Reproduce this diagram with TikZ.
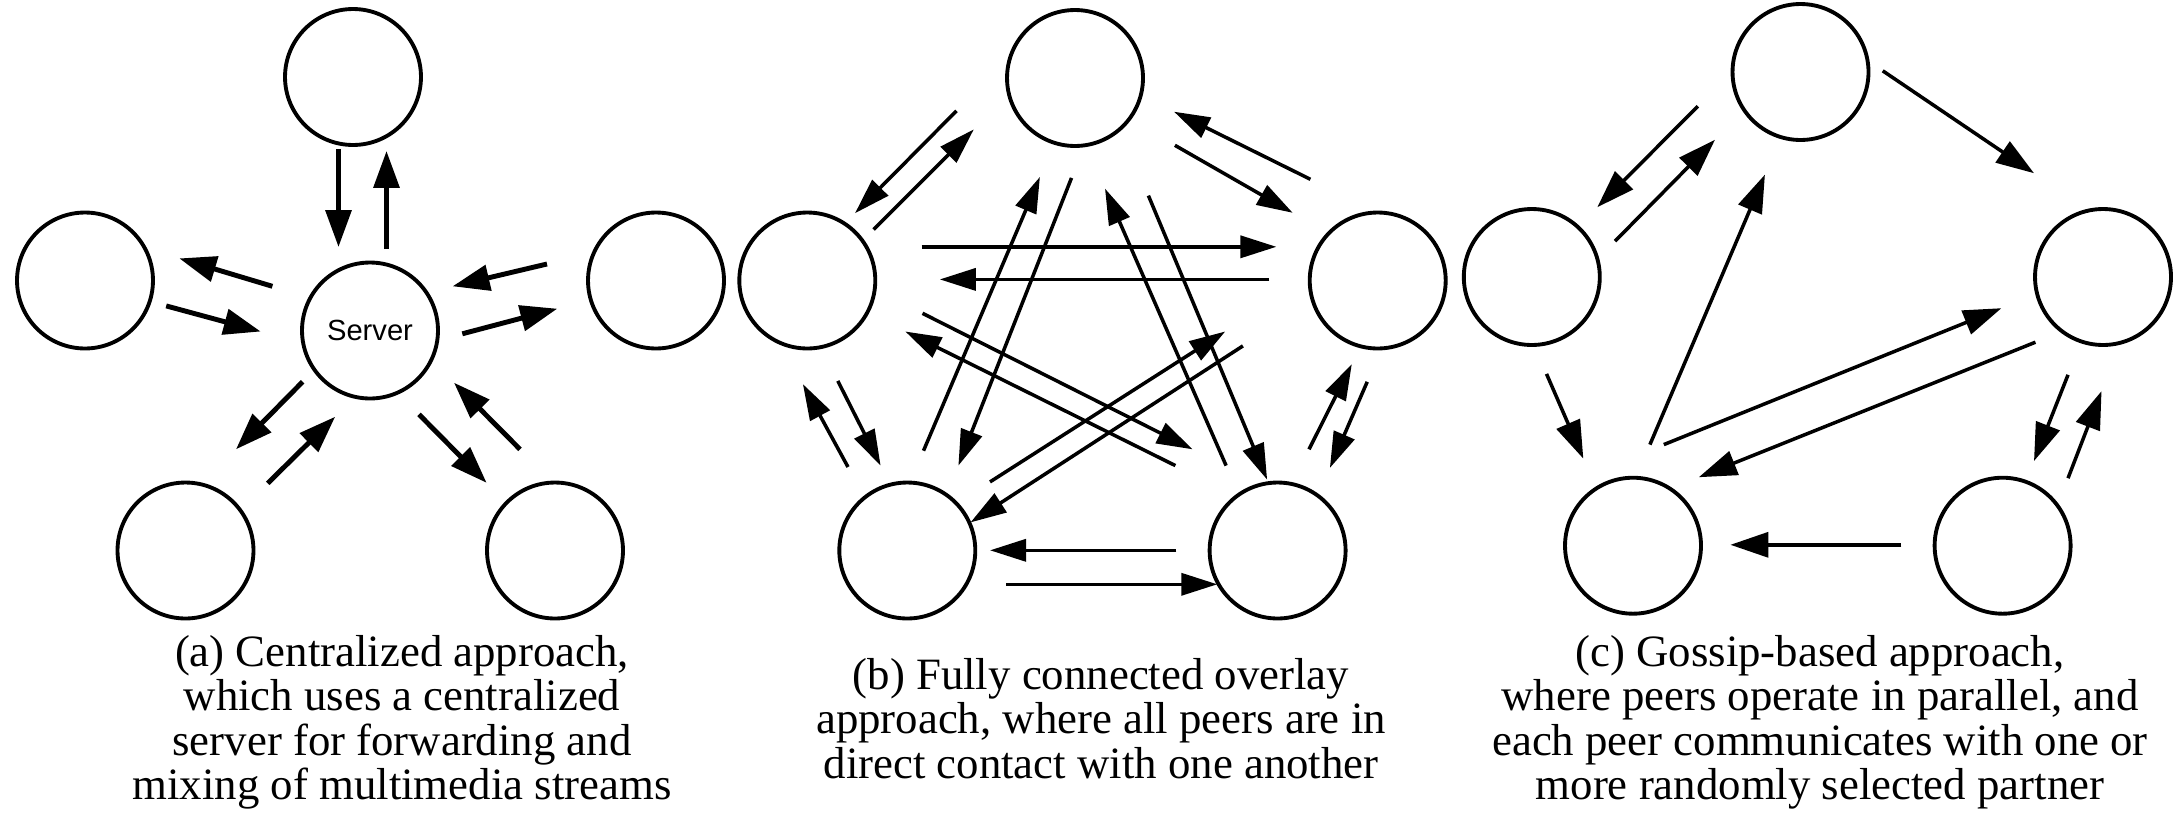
\documentclass[tikz,border=0pt]{standalone}
\usepackage{fontspec}
\setmainfont{Liberation Serif}
\newfontfamily\labelsans{Liberation Sans}
\usetikzlibrary{arrows.meta}

\begin{document}
\begin{tikzpicture}[x=0.02cm,y=-0.02cm,
  peer/.style={circle,draw,minimum size=2.72cm,inner sep=0pt,line width=2.2pt},
  heavy/.style={line width=2.8pt,-{Triangle[length=0.74cm,width=0.51cm]}},
  light/.style={line width=2.0pt,-{Triangle[length=0.72cm,width=0.44cm]}},
  gossip/.style={line width=2.0pt,-{Triangle[length=0.76cm,width=0.5cm]}},
  caption/.style={anchor=north,align=center,inner sep=0pt,
    font=\fontsize{25.5pt}{25.2pt}\selectfont}]

\useasboundingbox (0,0) rectangle (2182,812);

% ---------------- (a) centralized ----------------
\node[peer] (aT)  at (353,77) {};
\node[peer] (aS)  at (370,330.5) {\labelsans\fontsize{16.6pt}{18pt}\selectfont Server};
\node[peer] (aL)  at (85,280.5) {};
\node[peer] (aR)  at (656,280.5) {};
\node[peer] (aBL) at (185.5,550.5) {};
\node[peer] (aBR) at (555,550.5) {};

\coordinate (a1s) at (338.5,149);   \coordinate (a1e) at (338.5,247);
\coordinate (a2s) at (386.5,249);   \coordinate (a2e) at (386.5,151);
\coordinate (a3s) at (272.4,286.3); \coordinate (a3e) at (179.3,258.4);
\coordinate (a4s) at (166.2,305.9); \coordinate (a4e) at (260.7,331.5);
\coordinate (a5s) at (547,264);     \coordinate (a5e) at (452.6,286.3);
\coordinate (a6s) at (462.3,333.8); \coordinate (a6e) at (557.3,308.7);
\coordinate (a7s) at (302.6,381.8); \coordinate (a7e) at (236,449.3);
\coordinate (a8s) at (267.7,483.3); \coordinate (a8e) at (335.2,416.7);
\coordinate (a9s) at (419,414.4);   \coordinate (a9e) at (486.6,482.8);
\coordinate (a10s) at (520,449.3);  \coordinate (a10e) at (454,382.7);
\foreach \i in {1,...,10} \draw[heavy] (a\i s) -- (a\i e);

\node[caption] (capA) at (402,635)
  {(a) Centralized approach,\\ which uses a centralized\\ server for forwarding and\\ mixing of multimedia streams};

% ---------------- (b) fully connected ----------------
\node[peer] (bT)  at (1075,78) {};
\node[peer] (bL)  at (807.3,280.5) {};
\node[peer] (bR)  at (1377.7,280.5) {};
\node[peer] (bBL) at (907.3,550.5) {};
\node[peer] (bBR) at (1277.6,550.5) {};

\coordinate (b1s) at (956.5,110.8);  \coordinate (b1e) at (855,213.2);
\coordinate (b2s) at (873.6,229.5);  \coordinate (b2e) at (973.8,129.4);
\coordinate (b3s) at (1310.4,179.3); \coordinate (b3e) at (1174,111.7);
\coordinate (b4s) at (1174.9,145.3); \coordinate (b4e) at (1292.7,212.8);
\coordinate (b5s) at (921.6,246.8);  \coordinate (b5e) at (1276.4,246.8);
\coordinate (b6s) at (1269.4,279.4); \coordinate (b6e) at (939.8,279.4);
\coordinate (b7s) at (848,467);      \coordinate (b7e) at (802.9,384.1);
\coordinate (b8s) at (837.8,380.9);  \coordinate (b8e) at (880.6,465.6);
\coordinate (b9s) at (923.5,450.7);  \coordinate (b9e) at (1039.9,176.9);
\coordinate (b10s) at (1071.5,177.9); \coordinate (b10e) at (958.4,465.6);
\coordinate (b11s) at (1226.1,465.6); \coordinate (b11e) at (1105,188.6);
\coordinate (b12s) at (1148.4,195.6); \coordinate (b12e) at (1267.1,479.6);
\coordinate (b13s) at (922.5,313.3);  \coordinate (b13e) at (1192.6,449.3);
\coordinate (b14s) at (1175.4,465.6); \coordinate (b14e) at (905.3,331.5);
\coordinate (b15s) at (990,481.9);    \coordinate (b15e) at (1225.2,331.5);
\coordinate (b16s) at (1242.9,345.9); \coordinate (b16e) at (970.5,522.4);
\coordinate (b17s) at (1309,449.3);   \coordinate (b17e) at (1351.8,364.1);
\coordinate (b18s) at (1367.2,381.8); \coordinate (b18e) at (1329.9,467.9);
\coordinate (b19s) at (1176.3,550.3); \coordinate (b19e) at (990,550.3);
\coordinate (b20s) at (1006.3,584.3); \coordinate (b20e) at (1217.3,584.3);
\foreach \i in {1,...,20} \draw[light] (b\i s) -- (b\i e);

\node[caption] (capB) at (1101,658)
  {(b) Fully connected overlay\\ approach, where all peers are in\\ direct contact with one another};

% ---------------- (c) gossip-based ----------------
\node[peer] (cT)  at (1800.5,72) {};
\node[peer] (cL)  at (1531.8,277) {};
\node[peer] (cR)  at (2103,277) {};
\node[peer] (cBL) at (1633,545.7) {};
\node[peer] (cBR) at (2002.6,545.7) {};

\coordinate (c1s) at (1697.8,106.2); \coordinate (c1e) at (1597.3,207.2);
\coordinate (c2s) at (1615,241.2);   \coordinate (c2e) at (1715,139.7);
\coordinate (c3s) at (1882.7,70.8);  \coordinate (c3e) at (2034,173.2);
\coordinate (c4s) at (1649.9,444.6); \coordinate (c4e) at (1764.9,174.6);
\coordinate (c5s) at (1546.5,373.9); \coordinate (c5e) at (1583.3,458.6);
\coordinate (c6s) at (1663.8,444.6); \coordinate (c6e) at (2001.4,308.2);
\coordinate (c7s) at (2035.4,342.2); \coordinate (c7e) at (1698.8,477.2);
\coordinate (c8s) at (2068,374.8);   \coordinate (c8e) at (2034,461);
\coordinate (c9s) at (2068,478.2);   \coordinate (c9e) at (2101.5,391.1);
\coordinate (c10s) at (1901.3,544.8); \coordinate (c10e) at (1730.4,544.8);
\foreach \i in {1,...,10} \draw[gossip] (c\i s) -- (c\i e);

\node[caption] (capC) at (1820,635)
  {(c) Gossip-based approach,\\ where peers operate in parallel, and\\ each peer communicates with one or\\ more randomly selected partner};

\end{tikzpicture}
\end{document}
